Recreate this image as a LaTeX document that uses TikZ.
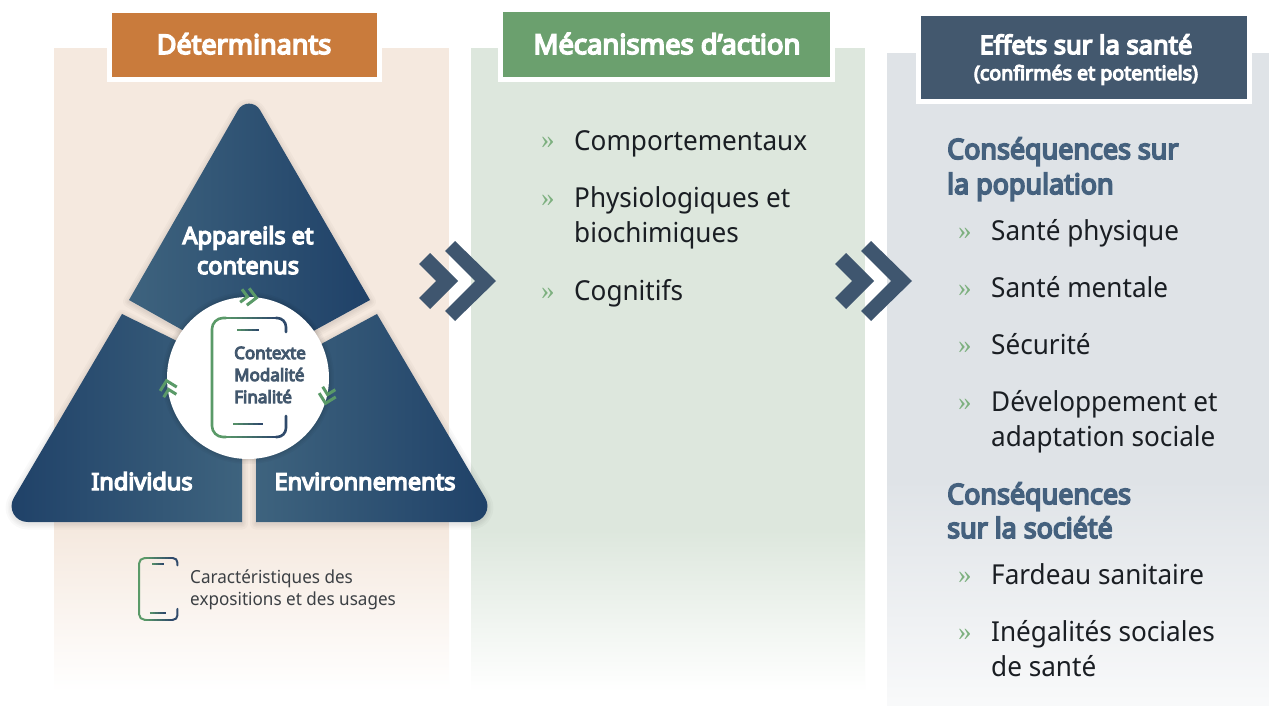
\documentclass[tikz,border=0pt]{standalone}
\usepackage{fontspec}
\setmainfont{Noto Sans}[FakeStretch=0.95]
\newfontfamily\serifbul{Liberation Serif}
\newfontfamily\boldface{Noto Sans}[FakeStretch=1.0,FakeBold=6]
\newfontfamily\sectface{Noto Sans}[FakeStretch=0.96,FakeBold=6]
\usetikzlibrary{calc}
\definecolor{panelA}{HTML}{F5E9DF}
\definecolor{panelB}{HTML}{DDE7DD}
\definecolor{panelC}{HTML}{DFE3E7}
\definecolor{headA}{HTML}{C97B3C}
\definecolor{headB}{HTML}{6BA06E}
\definecolor{headC}{HTML}{43586E}
\definecolor{triDark}{HTML}{1F4168}
\definecolor{triLight}{HTML}{3E637E}
\definecolor{chev}{HTML}{3F566F}
\definecolor{iconG}{HTML}{5A9A68}
\definecolor{iconN}{HTML}{2F4A6B}
\definecolor{titleblue}{HTML}{45617E}
\definecolor{bulletg}{HTML}{7DB07F}
\definecolor{bodyink}{HTML}{1A1E23}
\tikzset{
  x=1pt,y=-1pt,
  head/.style={draw=white,line width=5pt,inner sep=0pt},
  headtxt/.style={text=white,font=\fontsize{27}{30}\selectfont\boldface,inner sep=0pt,anchor=base},
  item/.style={text=bodyink,font=\fontsize{27.5}{30}\selectfont,inner sep=0pt,anchor=base west},
  bull/.style={text=bulletg,font=\fontsize{27}{30}\selectfont\serifbul,inner sep=0pt,anchor=base west},
  sect/.style={text=titleblue,font=\fontsize{28}{30}\selectfont\sectface,inner sep=0pt,anchor=base west},
  trilabel/.style={text=white,font=\fontsize{23.5}{26}\selectfont\boldface,inner sep=0pt,anchor=base},
  mid/.style={text=headC,font=\fontsize{17}{20}\selectfont\boldface,inner sep=0pt,anchor=base west},
  legend/.style={text=bodyink!85,font=\fontsize{18}{20}\selectfont,inner sep=0pt,anchor=base west},
  gchev/.style={draw=iconG,line width=3pt,miter limit=10},
}
\newcommand{\softpiece}[3]{%
  \foreach \w in {12,8,5,2}{\draw[black,opacity=.025,line width=\w pt,line join=round,yshift=-1.5pt] #1;}
  \shade[left color=#2,right color=#3] #1;
}
\newcommand{\flowchev}[1]{%
  \begin{scope}[xshift=#1]
    \fill[chev] (430,253)--(458,281)--(430,309)--(419,298)--(436,281)--(419,264)--cycle;
    \fill[chev] (455,241)--(496,281)--(455,321)--(445,311)--(475,281)--(445,251)--cycle;
  \end{scope}}
\newcommand{\cyc}[3]{%
  \begin{scope}[shift={(#1,#2)},rotate=#3]
    \draw[gchev] (-9,-6.5)--(-2.5,0)--(-9,6.5);
    \draw[gchev] (-2,-8.5)--(6.5,0)--(-2,8.5);
  \end{scope}}
\newcommand{\phone}[4]{% x y scale linewidth
  \begin{scope}[shift={(#1,#2)},scale=#3,line width=#4,line cap=round]
    \draw[iconG] (14,0) -- (11,0) .. controls (5,0) and (0,5) .. (0,11) -- (0,108) .. controls (0,114) and (5,119) .. (11,119) -- (14,119);
    \foreach \i in {0,...,9}{
      \pgfmathtruncatemacro\p{100-10*\i}
      \draw[line cap=butt,color=iconN!\p!iconG] ({65-5.1*(\i+1)},0)--({65-5.1*\i+.3},0);
      \draw[line cap=butt,color=iconN!\p!iconG] ({65-5.1*(\i+1)},119)--({65-5.1*\i+.3},119);
    }
    \draw[iconN] (64,0) -- (65,0) .. controls (70,0) and (74,4) .. (74,9) -- (74,14);
    \draw[iconN] (74,98) -- (74,110) .. controls (74,115) and (70,119) .. (65,119) -- (64,119);
    \foreach \i in {0,...,5}{
      \pgfmathtruncatemacro\p{100-17*\i}
      \draw[line cap=butt,color=iconN!\p!iconG] ({47-3.6*(\i+1)},12)--({47-3.6*\i+.2},12);
      \draw[line cap=butt,color=iconN!\p!iconG] ({51-5*(\i+1)},106)--({51-5*\i+.2},106);
    }
  \end{scope}}
\begin{document}
\begin{tikzpicture}
\useasboundingbox (0,0) rectangle (1269,706);
\fill[white] (0,0) rectangle (1269,706);
% panels
\fill[panelA] (54,48) rectangle (449,531);
\shade[top color=panelA,bottom color=white] (54,530) rectangle (449,692);
\fill[panelB] (471,48) rectangle (865,531);
\shade[top color=panelB,bottom color=white] (471,530) rectangle (865,692);
\fill[panelC] (887,53) rectangle (1269,481);
\shade[top color=panelC,bottom color=panelC!20!white] (887,480) rectangle (1269,706);
% headers
\node[head,fill=headA,minimum width=270pt,minimum height=69pt] (hA) at (244.5,45) {};
\node[head,fill=headB,minimum width=332pt,minimum height=70pt] (hB) at (666.5,44.5) {};
\node[head,fill=headC,minimum width=331pt,minimum height=88pt] (hC) at (1084,57.5) {};
\node[headtxt] (tA) at (244,54) {Déterminants};
\node[headtxt,font=\fontsize{27.4}{30}\selectfont\boldface] (tB) at (667,54) {Mécanismes d’action};
\node[headtxt,font=\fontsize{25.5}{28}\selectfont\boldface] (tC) at (1086,54) {Effets sur la santé};
\node[headtxt,font=\fontsize{19.6}{24}\selectfont\boldface] (tC2) at (1086,80) {(confirmés et potentiels)};
% triangle
\softpiece{(129,300)--(238,110.1) .. controls (242.9,101.5) and (255.1,101.5) .. (260,110)--(370,300)--(297,340)--(200,340)--cycle}{triLight}{triDark}
\softpiece{(122,314)--(13.8,497.9) .. controls (7.5,508.6) and (15.1,522) .. (27.6,522)--(242,522)--(242,400)--(175,340)--cycle}{triDark}{triLight}
\softpiece{(377,314)--(485.2,497.9) .. controls (491.5,508.6) and (483.9,522) .. (471.4,522)--(256,522)--(256,400)--(323,343)--cycle}{triLight}{triDark}
\foreach \w in {10,7,4,2}{\draw[black,opacity=.03,line width=\w pt] (248,378) circle[radius=81];}
\node[circle,fill=white,minimum size=162pt,inner sep=0pt] (hub) at (248,378) {};
\phone{212}{318}{1}{2.6pt}
\node[mid] (m1) at (234,359) {Contexte};
\node[mid] (m2) at (234,381) {Modalité};
\node[mid] (m3) at (234,403) {Finalité};
\cyc{250}{297}{-8}
\cyc{168}{387}{103}
\cyc{327}{397}{-103}
\node[trilabel] (l1) at (248,244) {Appareils et};
\node[trilabel] (l2) at (248,274) {contenus};
\node[trilabel] (l3) at (142,490) {Individus};
\node[trilabel] (l4) at (365,490) {Environnements};
% legend
\phone{139}{558}{.52}{2pt}
\node[legend] (lg1) at (190,583) {Caractéristiques des};
\node[legend] (lg2) at (190,605) {expositions et des usages};
% flow chevrons
\flowchev{0}
\flowchev{416}
% middle column
\node[bull] (b1) at (541,149) {»};
\node[item] (c1) at (574,150) {Comportementaux};
\node[bull] (b2) at (541,206) {»};
\node[item] (c2) at (574,207) {Physiologiques et};
\node[item] (c2b) at (574,242) {biochimiques};
\node[bull] (b3) at (541,299) {»};
\node[item] (c3) at (574,300) {Cognitifs};
% right column
\node[sect] (s1) at (947,159) {Conséquences sur};
\node[sect] (s1b) at (947,194) {la population};
\node[bull] (b4) at (958,239) {»};
\node[item] (r1) at (991,240) {Santé physique};
\node[bull] (b5) at (958,296) {»};
\node[item] (r2) at (991,297) {Santé mentale};
\node[bull] (b6) at (958,353) {»};
\node[item] (r3) at (991,354) {Sécurité};
\node[bull] (b7) at (958,410) {»};
\node[item] (r4) at (991,411) {Développement et};
\node[item] (r4b) at (991,446) {adaptation sociale};
\node[sect] (s2) at (947,504) {Conséquences};
\node[sect] (s2b) at (947,538) {sur la société};
\node[bull] (b8) at (958,583) {»};
\node[item] (r5) at (991,584) {Fardeau sanitaire};
\node[bull] (b9) at (958,640) {»};
\node[item] (r6) at (991,641) {Inégalités sociales};
\node[item] (r6b) at (991,676) {de santé};
\end{tikzpicture}
\end{document}
